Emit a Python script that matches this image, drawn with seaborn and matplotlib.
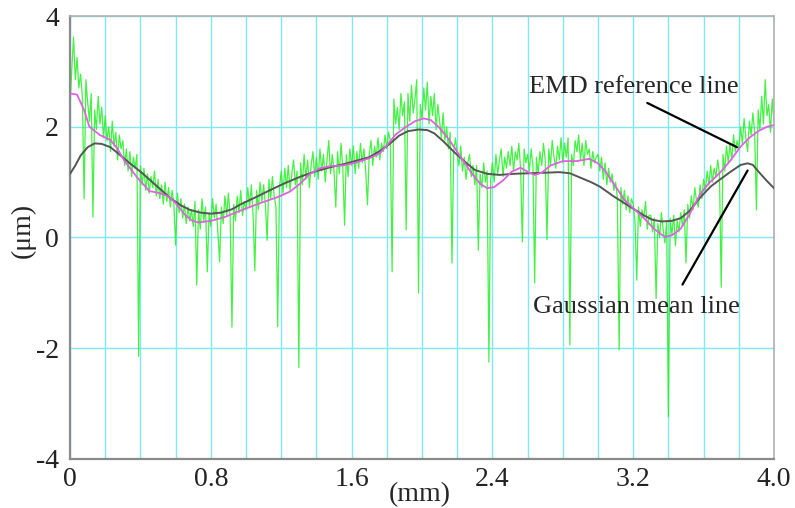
"""
Profile with EMD reference line and Gaussian mean line
"""

import numpy as np
import pandas as pd
import matplotlib
matplotlib.use("Agg")
import matplotlib.pyplot as plt
from matplotlib.ticker import MultipleLocator
import seaborn as sns

# === Data ===
# measured profile, one value every 0.01 mm from 0 to 4.0 mm
profile_um = [
    2.35, 3.05, 3.62, 2.85, 3.25, 2.7, 2.95, 2.55, 0.7, 2.85,
    2.45, 2.1, 2.6, 0.37, 2.3, 1.95, 2.55, 2.05, 2.35, 1.8,
    2.2, 1.75, 2.0, 1.55, 2.1, 1.65, 1.9, 1.4, 1.85, 1.6,
    1.75, 1.3, 1.6, 1.2, 1.55, 1.1, 1.45, 1.25, 1.5, -2.15,
    1.3, 0.95, 1.25, 0.85, 1.15, 0.8, 1.1, 0.9, 1.2, 0.75,
    1.05, 0.7, 0.95, 0.6, 1.0, 0.65, 0.9, 0.55, 0.85, 0.6,
    -0.14, 0.8, 0.45, 0.7, 0.35, 0.6, 0.25, 0.55, 0.3, 0.5,
    0.2, 0.65, -0.86, 0.5, 0.15, 0.7, 0.3, 0.55, -0.62, 0.45,
    0.2, 0.7, 0.35, 0.6, 0.1, -0.44, 0.55, 0.25, 0.75, 0.4,
    0.8, 0.35, -1.62, 0.6, 0.3, 0.75, 0.45, 0.85, 0.4, 0.65,
    0.5, 0.9, 0.55, 0.95, 0.4, -0.6, 0.85, 0.5, 1.0, 0.65,
    0.95, 0.6, -0.05, 1.05, 0.7, 1.1, 0.75, 0.55, -1.61, 0.9,
    1.2, 0.8, 1.25, 0.9, 1.3, 0.85, 1.15, 1.4, 0.95, 1.2,
    -2.35, 1.35, 0.95, 1.5, 1.05, 1.4, 0.9, 1.3, 1.55, 1.1,
    1.45, 1.05, 1.6, 1.2, 1.5, 1.0, 1.4, 1.75, 1.15, 1.5,
    1.2, 0.55, 1.55, 1.15, 1.7, 1.25, 0.22, 1.5, 1.1, 1.6,
    1.3, 1.65, 1.15, 1.55, 1.25, 1.7, 1.35, 1.6, 1.2, 0.59,
    1.5, 1.75, 1.3, 1.65, 1.45, 1.8, 1.4, 1.7, 1.55, 1.85,
    1.6, 1.9, 1.75, -0.62, 2.5, 2.05, 2.35, 1.95, 2.6, 2.2,
    2.45, 0.14, 2.6, 2.1, 2.75, 2.25, 2.5, 2.85, -1.0, 2.4,
    2.15, 2.7, 2.3, 2.8, 2.05, 2.55, 2.2, 2.6, 1.95, 2.4,
    2.1, 1.8, 2.25, 1.75, 2.0, 1.6, 1.9, -0.46, 1.55, 1.8,
    1.5, 1.3, 1.65, 1.2, 1.45, 1.05, 1.35, 1.5, 1.1, 1.3,
    0.95, 1.3, -0.23, 1.15, 0.9, 1.35, 1.0, 1.2, -2.25, 1.05,
    1.35, 1.0, 1.5, 1.15, 1.4, 1.6, 1.1, 1.45, 1.25, 1.55,
    1.3, 1.65, 1.2, 1.55, 1.4, 1.7, 1.25, -0.08, 1.6, 1.35,
    1.5, 1.2, 1.6, 1.3, -0.82, 1.45, 1.15, 1.55, 1.3, 1.7,
    1.4, -0.04, 1.6, 1.3, 1.75, 1.45, 1.25, 1.65, 1.4, 1.8,
    1.35, 1.7, 1.45, 1.8, -1.94, 1.5, 1.3, 1.75, 1.55, 1.85,
    1.4, 1.7, 1.3, 1.75, 1.5, 1.6, 1.25, 1.55, 1.35, 1.45,
    1.5, 1.2, 1.45, 1.05, 1.35, 0.95, 1.25, 1.0, 1.15, 0.85,
    1.0, 0.7, -2.03, 0.9, 0.6, 0.85, 0.5, 0.75, 0.45, 0.7,
    0.6, 0.3, -0.77, 0.55, 0.2, 0.5, 0.35, 0.65, 0.15, 0.4,
    0.4, 0.1, 0.35, -1.1, 0.25, 0.0, 0.45, 0.15, -0.1, 0.3,
    -3.24, 0.35, 0.05, 0.4, -0.15, 0.3, 0.1, 0.45, 0.2, 0.5,
    -0.46, 0.6, 0.35, 0.75, 0.5, 0.9, 0.65, 0.55, 0.95, 0.7,
    1.05, 0.85, 1.2, 0.95, 1.3, 1.0, 1.25, 1.1, 1.4, 1.15,
    -0.9, 1.5, 1.2, 1.65, 1.35, 1.7, 1.4, 1.85, 1.55, 1.75,
    1.6, 2.0, 1.7, 2.15, 1.8, 1.55, 2.1, 1.85, 2.25, 1.9,
    0.5, 2.3, 1.95, 2.55, 2.05, 2.85, 2.2, 2.4, 1.9, 2.5,
    2.1,
]
profile_mm = [i / 100 for i in range(len(profile_um))]

emd_mm = [0.00, 0.04, 0.08, 0.11, 0.17, 0.23, 0.27, 0.31, 0.38, 0.45, 0.51, 0.56,
          0.60, 0.65, 0.69, 0.73, 0.80, 0.88, 0.98, 1.08, 1.18, 1.25, 1.31, 1.36,
          1.42, 1.48, 1.55, 1.62, 1.70, 1.76, 1.81, 1.85, 1.90, 1.96, 2.01, 2.05,
          2.10, 2.16, 2.22, 2.28, 2.33, 2.37, 2.41, 2.46, 2.51, 2.56, 2.61, 2.64,
          2.68, 2.73, 2.80, 2.88, 2.95, 3.00, 3.04, 3.10, 3.15, 3.21, 3.27, 3.32,
          3.38, 3.42, 3.47, 3.52, 3.58, 3.63, 3.69, 3.75, 3.81, 3.86, 3.91, 3.96, 4.00]
emd_um = [2.60, 2.58, 2.30, 2.00, 1.85, 1.76, 1.60, 1.38, 1.09, 0.84, 0.80, 0.74,
          0.62, 0.42, 0.31, 0.27, 0.30, 0.37, 0.50, 0.62, 0.73, 0.83, 0.98, 1.14,
          1.25, 1.29, 1.30, 1.35, 1.43, 1.52, 1.70, 1.86, 1.98, 2.10, 2.15, 2.12,
          1.98, 1.74, 1.45, 1.17, 0.97, 0.89, 0.91, 1.03, 1.19, 1.26, 1.17, 1.13,
          1.17, 1.30, 1.38, 1.38, 1.42, 1.34, 1.20, 0.92, 0.68, 0.50, 0.32, 0.15,
          0.01, 0.04, 0.16, 0.42, 0.78, 0.98, 1.16, 1.38, 1.64, 1.80, 1.92, 2.00, 2.03]

gauss_mm = [0.00, 0.03, 0.06, 0.10, 0.14, 0.18, 0.23, 0.28, 0.34, 0.40, 0.45, 0.51,
            0.57, 0.63, 0.68, 0.74, 0.80, 0.86, 0.92, 0.97, 1.05, 1.14, 1.22, 1.31,
            1.40, 1.48, 1.55, 1.62, 1.70, 1.76, 1.82, 1.87, 1.92, 1.98, 2.03, 2.07,
            2.12, 2.19, 2.25, 2.30, 2.37, 2.44, 2.52, 2.61, 2.70, 2.78, 2.84, 2.90,
            2.96, 3.01, 3.09, 3.18, 3.26, 3.31, 3.36, 3.42, 3.47, 3.52, 3.58, 3.64,
            3.69, 3.75, 3.81, 3.85, 3.88, 3.92, 3.96, 4.00]
gauss_um = [1.15, 1.30, 1.48, 1.63, 1.70, 1.69, 1.63, 1.50, 1.34, 1.19, 1.05, 0.88,
            0.71, 0.58, 0.50, 0.45, 0.43, 0.45, 0.51, 0.60, 0.72, 0.86, 0.98, 1.10,
            1.20, 1.27, 1.32, 1.38, 1.45, 1.56, 1.70, 1.84, 1.92, 1.95, 1.94, 1.88,
            1.74, 1.52, 1.35, 1.22, 1.15, 1.13, 1.15, 1.16, 1.17, 1.18, 1.16, 1.08,
            1.00, 0.92, 0.74, 0.56, 0.40, 0.32, 0.29, 0.30, 0.35, 0.48, 0.72, 0.92,
            1.04, 1.18, 1.31, 1.34, 1.31, 1.16, 1.02, 0.89]

x_ticks = [0, 0.8, 1.6, 2.4, 3.2, 4.0]
x_tick_labels = ["0", "0.8", "1.6", "2.4", "3.2", "4.0"]
y_ticks = [-4, -2, 0, 2, 4]
y_tick_labels = ["-4", "-2", "0", "2", "4"]

# === Style ===
sns.set_theme(style="white")
plt.rcParams["font.family"] = ["Liberation Serif", "DejaVu Serif"]
plt.rcParams["axes.unicode_minus"] = False
GRID = "#7ee8f4"
GREEN = "#22f022"
MAGENTA = "#e060e0"
GRAY = "#555555"

fig = plt.figure(figsize=(7.95, 5.08), dpi=100)
ax = fig.add_axes([0.0881, 0.0965, 0.8855, 0.872])

profile_df = pd.DataFrame({"x": profile_mm, "y": profile_um})
emd_df = pd.DataFrame({"x": emd_mm, "y": emd_um})
gauss_df = pd.DataFrame({"x": gauss_mm, "y": gauss_um})

sns.lineplot(data=profile_df, x="x", y="y", ax=ax, color=GREEN, linewidth=0.9,
             estimator=None, sort=False, alpha=0.85, zorder=2)
sns.lineplot(data=gauss_df, x="x", y="y", ax=ax, color=GRAY, linewidth=1.4,
             estimator=None, sort=False, zorder=3)
sns.lineplot(data=emd_df, x="x", y="y", ax=ax, color=MAGENTA, linewidth=1.3,
             estimator=None, sort=False, zorder=4)

ax.set_xlim(0, 4.0)
ax.set_ylim(-4, 4)
ax.set_xticks(x_ticks)
ax.set_xticklabels(x_tick_labels)
ax.xaxis.set_minor_locator(MultipleLocator(0.2))
ax.set_yticks(y_ticks)
ax.set_yticklabels(y_tick_labels)
ax.grid(True, which="both", axis="x", color=GRID, linewidth=1.0, zorder=0)
ax.grid(True, which="major", axis="y", color=GRID, linewidth=1.0, zorder=0)
ax.set_axisbelow(True)
ax.tick_params(axis="both", which="both", length=0, labelsize=20, colors="#222222")
ax.tick_params(axis="x", pad=6)
ax.tick_params(axis="y", pad=8)
ax.set_xlabel("")
ax.set_ylabel("")
for side in ["left", "bottom"]:
    ax.spines[side].set_color("#8a8a8a")
    ax.spines[side].set_linewidth(1.6)
for side in ["top", "right"]:
    ax.spines[side].set_color("#b0b0b0")
    ax.spines[side].set_linewidth(1.2)

fig.text(420 / 795, 1 - 495 / 508, "(mm)", ha="center", va="center", fontsize=20)
fig.text(23 / 795, 1 - 230 / 508, "(\u03bcm)", ha="center", va="center",
         fontsize=20, rotation=90)

# labels and leader lines
ax.text(3.205, 2.72, "EMD reference line", ha="center", va="center", fontsize=19)
ax.annotate("", xy=(3.79, 1.63), xytext=(3.28, 2.43),
            arrowprops=dict(arrowstyle="-", color="black", lw=1.6,
                            shrinkA=0, shrinkB=0))
ax.text(3.216, -1.25, "Gaussian mean line", ha="center", va="center", fontsize=19)
ax.annotate("", xy=(3.85, 1.21), xytext=(3.48, -0.85),
            arrowprops=dict(arrowstyle="-", color="black", lw=1.6,
                            shrinkA=0, shrinkB=0))

plt.savefig("out.png", dpi=100)
plt.close()
